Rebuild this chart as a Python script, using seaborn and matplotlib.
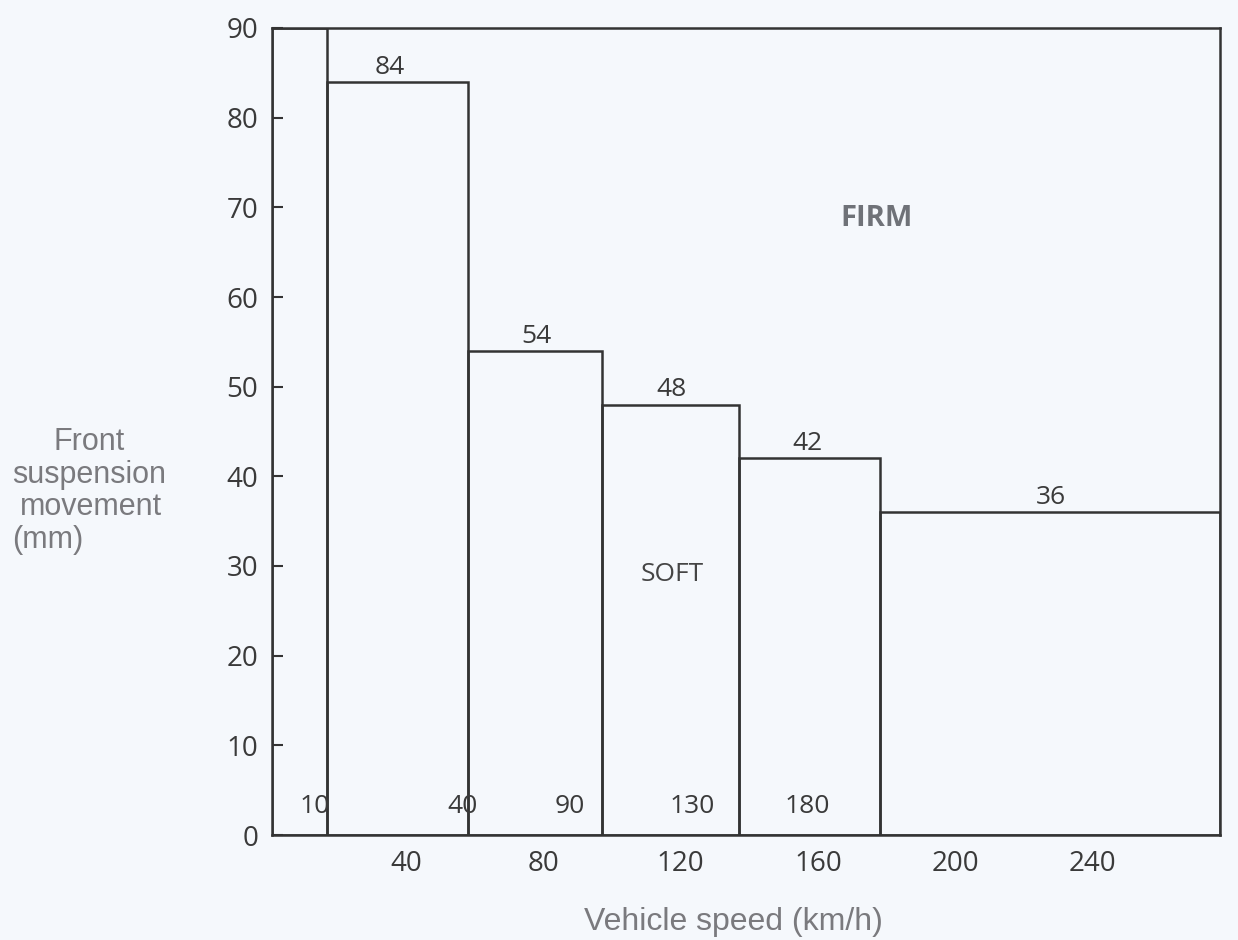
import matplotlib
matplotlib.use("Agg")
import matplotlib.pyplot as plt
import seaborn as sns
import numpy as np
import pandas as pd

# ---- data ----
speed_edges = [1, 17, 58, 97, 137, 178, 277]       # km/h, step boundaries as drawn
movement = [90, 84, 54, 48, 42, 36]                # mm, height of each step
value_labels = ["84", "54", "48", "42", "36"]
boundary_labels = ["10", "40", "90", "130", "180"]
y_ticks = [0, 10, 20, 30, 40, 50, 60, 70, 80, 90]
x_ticks = [40, 80, 120, 160, 200, 240]

BG = "#f5f8fc"
LINE = "#333333"
TXT = "#3a3a3a"
LBL = "#7a7a7e"
FS = 19
NUMFONT = ["Open Sans", "DejaVu Sans"]

sns.set_theme(style="white")
plt.rcParams["font.family"] = NUMFONT

fig = plt.figure(figsize=(12.38, 9.40), dpi=100, facecolor=BG)
ax = fig.add_axes([272 / 1238, 1 - 835 / 940, (1220 - 272) / 1238, (835 - 28) / 940])
ax.set_facecolor(BG)

centers = [(a + b) / 2 for a, b in zip(speed_edges[:-1], speed_edges[1:])]
df = pd.DataFrame({"speed": centers, "movement": movement})
sns.histplot(data=df, x="speed", weights="movement", bins=speed_edges,
             fill=False, element="bars", color=LINE, linewidth=1.8, ax=ax)

ax.set_xlim(speed_edges[0], speed_edges[-1])
ax.set_ylim(0, 90)
ax.set_yticks(y_ticks)
ax.set_xticks(x_ticks)
ax.set_xlabel("")
ax.set_ylabel("")
ax.tick_params(axis="y", direction="in", length=8, width=1.5, color=LINE,
               labelsize=20, labelcolor=TXT, pad=10, left=True)
ax.tick_params(axis="x", length=0, labelsize=20, labelcolor=TXT, pad=11)
for s in ax.spines.values():
    s.set_visible(True)
    s.set_color(LINE)
    s.set_linewidth(1.8)

# value labels above each step
label_x = [35.4, 77.9, 117.4, 156.8, 227.8]
for xc, h, lab in zip(label_x, movement[1:], value_labels):
    ax.text(xc, h + 0.25, lab, ha="center", va="bottom", fontsize=FS, color=TXT)

# boundary speed labels at the bottom
bx = [13.5, 56.6, 87.8, 123.3, 156.8]
for x, lab in zip(bx, boundary_labels):
    ax.text(x, 3.2, lab, ha="center", va="center", fontsize=FS, color=TXT)

ax.text(177, 68.8, "FIRM", ha="center", va="center", fontsize=21,
        color="#6f7278", fontweight="bold")
ax.text(117.5, 29.0, "SOFT", ha="center", va="center", fontsize=FS, color="#454545")

# axis titles
fig.text(733 / 1238, 1 - 922 / 940, "Vehicle speed (km/h)", ha="center", va="center",
         fontsize=23, color=LBL, family=["Liberation Sans"])
ylab_lines = ["Front", "suspension", "movement", "(mm)"]
ys = [442, 475, 507, 540]
xs = [89, 89, 91, 12]
has = ["center", "center", "center", "left"]
for t, yy, xx, ha in zip(ylab_lines, ys, xs, has):
    fig.text(xx / 1238, 1 - yy / 940, t, ha=ha, va="center", fontsize=22, color=LBL,
             family=["Liberation Sans"])

fig.savefig("out.png", dpi=100, facecolor=BG)
